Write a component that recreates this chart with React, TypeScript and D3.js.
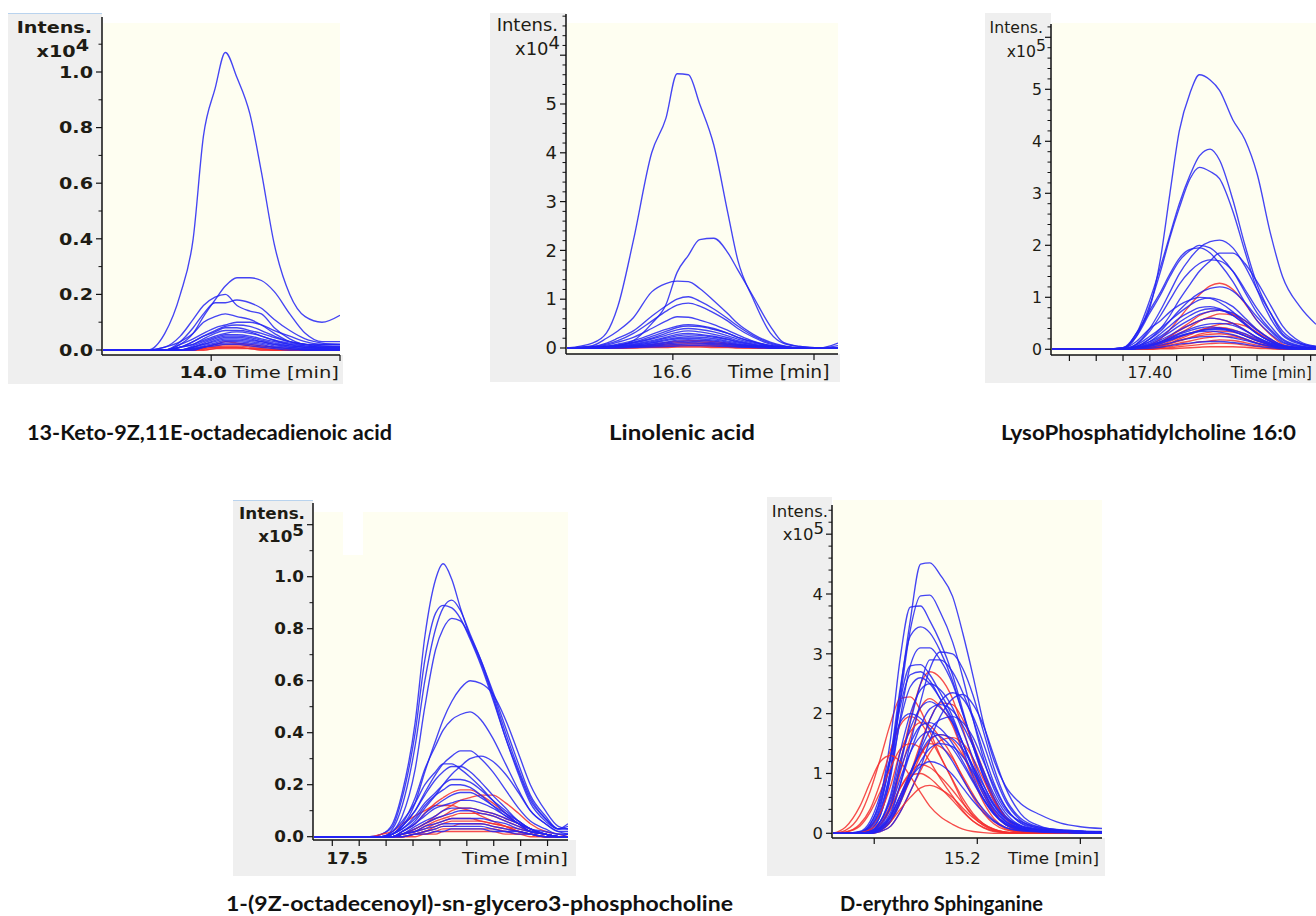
import React from "react";
import * as d3 from "d3";

// ---------------- Panel 1 : 13-Keto-9Z,11E-octadecadienoic acid (x10^4) ----------------
const p1Times = [13.58, 13.755, 13.82, 13.88, 13.93, 13.97, 14.015, 14.055, 14.1, 14.15, 14.195, 14.245, 14.305, 14.365, 14.43, 14.5];
const p1Blue = [
  [0, 0, 0.06, 0.2, 0.4, 0.77, 0.94, 1.07, 0.98, 0.85, 0.64, 0.38, 0.2, 0.12, 0.1, 0.125],
  [0, 0, 0, 0.02, 0.06, 0.12, 0.18, 0.23, 0.26, 0.26, 0.25, 0.21, 0.13, 0.06, 0.03, 0.03],
  [0, 0, 0.01, 0.05, 0.11, 0.16, 0.19, 0.2, 0.16, 0.14, 0.13, 0.08, 0.04, 0.02, 0.02, 0.02],
  [0, 0, 0, 0.03, 0.08, 0.13, 0.17, 0.17, 0.18, 0.17, 0.15, 0.11, 0.07, 0.04, 0.025, 0.02],
  [0, 0, 0.01, 0.03, 0.06, 0.1, 0.12, 0.13, 0.12, 0.11, 0.09, 0.06, 0.03, 0.02, 0.01, 0.01],
  [0, 0, 0, 0.02, 0.04, 0.06, 0.08, 0.09, 0.1, 0.1, 0.09, 0.07, 0.05, 0.03, 0.02, 0.02],
  [0, 0, 0, 0.01, 0.03, 0.05, 0.07, 0.085, 0.09, 0.085, 0.07, 0.05, 0.03, 0.02, 0.015, 0.015],
  [0, 0, 0, 0.01, 0.03, 0.05, 0.065, 0.08, 0.08, 0.07, 0.06, 0.045, 0.03, 0.02, 0.015, 0.01],
  [0, 0, 0, 0.01, 0.02, 0.04, 0.06, 0.07, 0.07, 0.065, 0.05, 0.035, 0.02, 0.015, 0.01, 0.01],
  [0, 0, 0, 0.01, 0.02, 0.035, 0.05, 0.06, 0.065, 0.06, 0.05, 0.035, 0.025, 0.015, 0.01, 0.01],
  [0, 0, 0, 0, 0.015, 0.03, 0.045, 0.055, 0.055, 0.05, 0.04, 0.03, 0.02, 0.01, 0.01, 0.01],
  [0, 0, 0, 0, 0.01, 0.025, 0.04, 0.05, 0.05, 0.045, 0.035, 0.025, 0.015, 0.01, 0.005, 0.005],
  [0, 0, 0, 0, 0.01, 0.02, 0.035, 0.045, 0.045, 0.04, 0.03, 0.02, 0.015, 0.01, 0.005, 0.005],
  [0, 0, 0, 0, 0.01, 0.02, 0.03, 0.04, 0.04, 0.035, 0.03, 0.02, 0.01, 0.005, 0.005, 0.005],
  [0, 0, 0, 0, 0.005, 0.015, 0.025, 0.035, 0.035, 0.03, 0.025, 0.015, 0.01, 0.005, 0, 0],
  [0, 0, 0, 0, 0.005, 0.01, 0.02, 0.03, 0.03, 0.025, 0.02, 0.01, 0.005, 0, 0, 0],
  [0, 0, 0, 0, 0, 0.01, 0.02, 0.025, 0.025, 0.02, 0.015, 0.01, 0.005, 0, 0, 0],
  [0, 0, 0, 0, 0, 0.01, 0.015, 0.02, 0.02, 0.015, 0.01, 0.005, 0, 0, 0, 0],
];
const p1Red = [
  [0, 0, 0, 0, 0.005, 0.01, 0.02, 0.03, 0.025, 0.02, 0.015, 0.01, 0.005, 0, 0, 0],
  [0, 0, 0, 0, 0, 0.01, 0.015, 0.02, 0.02, 0.015, 0.01, 0.005, 0, 0, 0, 0],
  [0, 0, 0, 0, 0, 0.005, 0.01, 0.015, 0.015, 0.01, 0.005, 0, 0, 0, 0, 0],
  [0, 0, 0, 0, 0, 0.005, 0.01, 0.01, 0.01, 0.005, 0.005, 0, 0, 0, 0, 0],
  [0, 0, 0, 0, 0, 0, 0.005, 0.01, 0.01, 0.005, 0, 0, 0, 0, 0, 0],
  [0, 0, 0, 0, 0, 0, 0.005, 0.005, 0.005, 0.005, 0, 0, 0, 0, 0, 0],
];
const p1YTicks = [0, 0.2, 0.4, 0.6, 0.8, 1.0];
const p1YLabels = ["0.0", "0.2", "0.4", "0.6", "0.8", "1.0"];
const p1YExtra: number[] = [];
const p1YMinor = [0.1, 0.3, 0.5, 0.7, 0.9, 1.1];
const p1XTicks = [14.0, 14.5];
const p1XLabel = { value: 14.0, text: "14.0" };

// ---------------- Panel 2 : Linolenic acid (x10^4) ----------------
const p2Times = [16.525, 16.543, 16.553, 16.561, 16.572, 16.585, 16.595, 16.603, 16.611, 16.619, 16.629, 16.639, 16.646, 16.657, 16.669, 16.678, 16.69, 16.704, 16.717];
const p2Blue = [
  [0, 0.1, 0.31, 0.85, 2.2, 4.0, 4.7, 5.62, 5.6, 5.0, 4.16, 2.76, 1.8, 1.0, 0.31, 0.1, 0.03, 0, 0.05],
  [0, 0, 0.02, 0.05, 0.15, 0.5, 0.88, 1.55, 1.9, 2.22, 2.25, 1.95, 1.6, 1.05, 0.45, 0.12, 0.03, 0, 0],
  [0, 0.05, 0.2, 0.35, 0.62, 1.15, 1.32, 1.37, 1.36, 1.22, 0.97, 0.7, 0.5, 0.28, 0.12, 0.05, 0, 0, 0],
  [0, 0.03, 0.1, 0.2, 0.35, 0.65, 0.86, 1.0, 1.05, 0.96, 0.8, 0.6, 0.45, 0.25, 0.1, 0.04, 0, 0, 0],
  [0, 0.02, 0.08, 0.15, 0.3, 0.55, 0.75, 0.88, 0.92, 0.86, 0.72, 0.55, 0.4, 0.22, 0.08, 0.03, 0, 0, 0],
  [0, 0.02, 0.06, 0.12, 0.22, 0.4, 0.55, 0.64, 0.63, 0.57, 0.48, 0.36, 0.27, 0.14, 0.05, 0.02, 0, 0, 0],
  [0, 0.01, 0.04, 0.08, 0.15, 0.28, 0.38, 0.45, 0.48, 0.46, 0.4, 0.3, 0.22, 0.12, 0.05, 0.02, 0, 0, 0],
  [0, 0.01, 0.03, 0.06, 0.12, 0.24, 0.34, 0.42, 0.45, 0.44, 0.38, 0.3, 0.22, 0.13, 0.05, 0.02, 0, 0, 0],
  [0, 0.01, 0.03, 0.06, 0.11, 0.2, 0.3, 0.37, 0.4, 0.38, 0.33, 0.25, 0.18, 0.1, 0.04, 0.01, 0, 0, 0],
  [0, 0.01, 0.02, 0.05, 0.1, 0.18, 0.26, 0.32, 0.35, 0.33, 0.28, 0.21, 0.15, 0.08, 0.03, 0.01, 0, 0, 0],
  [0, 0.01, 0.02, 0.04, 0.08, 0.15, 0.22, 0.28, 0.3, 0.28, 0.24, 0.18, 0.13, 0.07, 0.03, 0.01, 0, 0, 0],
  [0, 0, 0.02, 0.04, 0.07, 0.13, 0.2, 0.25, 0.27, 0.26, 0.22, 0.17, 0.12, 0.06, 0.02, 0, 0, 0, 0],
  [0, 0, 0.01, 0.03, 0.06, 0.11, 0.17, 0.21, 0.23, 0.22, 0.19, 0.14, 0.1, 0.05, 0.02, 0, 0, 0, 0],
  [0, 0, 0.01, 0.03, 0.05, 0.1, 0.15, 0.19, 0.2, 0.19, 0.16, 0.12, 0.08, 0.04, 0.01, 0, 0, 0, 0],
  [0, 0, 0.01, 0.02, 0.04, 0.08, 0.12, 0.16, 0.17, 0.16, 0.14, 0.1, 0.07, 0.03, 0.01, 0, 0, 0, 0],
  [0, 0, 0.01, 0.02, 0.04, 0.07, 0.1, 0.13, 0.14, 0.13, 0.11, 0.08, 0.06, 0.03, 0.01, 0, 0, 0, 0],
  [0, 0, 0, 0.01, 0.03, 0.05, 0.08, 0.1, 0.11, 0.1, 0.09, 0.07, 0.05, 0.02, 0.01, 0, 0, 0, 0],
  [0, 0, 0, 0.01, 0.02, 0.04, 0.06, 0.07, 0.08, 0.08, 0.07, 0.05, 0.03, 0.02, 0, 0, 0, 0, 0],
  [0, 0, 0, 0, 0.01, 0.02, 0.03, 0.04, 0.05, 0.05, 0.04, 0.03, 0.02, 0.01, 0, 0, 0, 0, 0.1],
];
const p2Red = [
  [0, 0, 0, 0.01, 0.03, 0.07, 0.11, 0.14, 0.15, 0.15, 0.13, 0.1, 0.07, 0.04, 0.01, 0, 0, 0, 0],
  [0, 0, 0, 0.01, 0.02, 0.05, 0.08, 0.11, 0.12, 0.12, 0.1, 0.08, 0.05, 0.03, 0.01, 0, 0, 0, 0],
  [0, 0, 0, 0, 0.02, 0.04, 0.06, 0.08, 0.09, 0.09, 0.08, 0.06, 0.04, 0.02, 0.01, 0, 0, 0, 0],
  [0, 0, 0, 0, 0.01, 0.03, 0.04, 0.05, 0.06, 0.06, 0.05, 0.04, 0.03, 0.01, 0, 0, 0, 0, 0],
  [0, 0, 0, 0, 0.01, 0.02, 0.03, 0.04, 0.04, 0.04, 0.03, 0.02, 0.01, 0, 0, 0, 0, 0, 0],
  [0, 0, 0, 0, 0, 0.01, 0.01, 0.02, 0.02, 0.02, 0.01, 0.01, 0, 0, 0, 0, 0, 0, 0],
];
const p2YTicks = [0, 1, 2, 3, 4, 5];
const p2YLabels = ["0", "1", "2", "3", "4", "5"];
const p2YExtra = [6];
const p2YMinor = d3.range(0.2, 6.81, 0.2).filter((v) => Math.abs(v - Math.round(v)) > 0.05);
const p2XTicks = [16.6, 16.7];
const p2XLabel = { value: 16.6, text: "16.6" };

// ---------------- Panel 3 : LysoPhosphatidylcholine 16:0 (x10^5) ----------------
const p3Times = [17.327, 17.363, 17.38, 17.39, 17.4, 17.408, 17.415, 17.422, 17.43, 17.437, 17.445, 17.452, 17.462, 17.471, 17.48, 17.49, 17.499, 17.512, 17.524];
const p3Blue = [
  [0, 0, 0, 0.31, 0.8, 1.75, 3.0, 4.2, 4.93, 5.28, 5.18, 4.98, 4.41, 4.03, 3.38, 2.23, 1.4, 0.82, 0.48],
  [0, 0, 0.02, 0.3, 0.95, 1.59, 2.2, 2.8, 3.35, 3.72, 3.85, 3.64, 2.87, 2.0, 1.25, 0.7, 0.3, 0.12, 0.05],
  [0, 0, 0.02, 0.25, 0.85, 1.5, 2.15, 2.72, 3.28, 3.5, 3.42, 3.28, 2.65, 1.88, 1.15, 0.6, 0.27, 0.1, 0.04],
  [0, 0, 0.01, 0.1, 0.4, 0.75, 1.1, 1.45, 1.75, 1.95, 2.07, 2.1, 1.95, 1.6, 1.15, 0.7, 0.35, 0.12, 0.05],
  [0, 0, 0.03, 0.25, 0.7, 1.05, 1.4, 1.7, 1.9, 2.0, 1.95, 1.8, 1.5, 1.1, 0.7, 0.38, 0.18, 0.06, 0.03],
  [0, 0, 0, 0.05, 0.2, 0.4, 0.65, 0.95, 1.25, 1.5, 1.7, 1.85, 1.85, 1.65, 1.3, 0.85, 0.45, 0.15, 0.06],
  [0, 0, 0.03, 0.3, 0.75, 1.1, 1.45, 1.75, 1.92, 1.95, 1.85, 1.65, 1.3, 0.9, 0.55, 0.3, 0.13, 0.05, 0.02],
  [0, 0, 0.01, 0.1, 0.35, 0.65, 0.95, 1.25, 1.5, 1.65, 1.72, 1.7, 1.5, 1.15, 0.78, 0.45, 0.2, 0.07, 0.03],
  [0, 0, 0, 0.05, 0.2, 0.35, 0.55, 0.75, 0.95, 1.08, 1.17, 1.2, 1.12, 0.9, 0.62, 0.35, 0.15, 0.05, 0.02],
  [0, 0, 0.02, 0.15, 0.4, 0.55, 0.72, 0.85, 0.95, 1.0, 0.98, 0.9, 0.72, 0.5, 0.3, 0.15, 0.06, 0.02, 0.01],
  [0, 0, 0, 0.08, 0.25, 0.4, 0.55, 0.7, 0.85, 0.95, 0.99, 0.95, 0.82, 0.6, 0.38, 0.2, 0.08, 0.03, 0.01],
  [0, 0, 0.01, 0.05, 0.15, 0.3, 0.45, 0.6, 0.72, 0.8, 0.82, 0.78, 0.65, 0.48, 0.3, 0.16, 0.07, 0.03, 0.01],
  [0, 0, 0, 0.05, 0.15, 0.25, 0.38, 0.52, 0.65, 0.74, 0.78, 0.76, 0.65, 0.48, 0.3, 0.15, 0.06, 0.02, 0.01],
  [0, 0, 0, 0.04, 0.12, 0.22, 0.33, 0.45, 0.57, 0.67, 0.73, 0.75, 0.7, 0.55, 0.36, 0.19, 0.08, 0.03, 0.01],
  [0, 0, 0, 0.03, 0.1, 0.18, 0.27, 0.37, 0.47, 0.55, 0.6, 0.58, 0.5, 0.37, 0.23, 0.12, 0.05, 0.02, 0.01],
  [0, 0, 0, 0.02, 0.08, 0.15, 0.23, 0.31, 0.39, 0.45, 0.49, 0.5, 0.46, 0.36, 0.23, 0.12, 0.05, 0.02, 0.01],
  [0, 0, 0, 0.03, 0.08, 0.14, 0.21, 0.29, 0.36, 0.41, 0.43, 0.41, 0.35, 0.26, 0.16, 0.08, 0.03, 0.01, 0],
  [0, 0, 0, 0.02, 0.06, 0.12, 0.18, 0.25, 0.31, 0.36, 0.39, 0.4, 0.37, 0.3, 0.2, 0.1, 0.04, 0.01, 0],
  [0, 0, 0, 0.02, 0.06, 0.11, 0.17, 0.24, 0.3, 0.35, 0.38, 0.38, 0.34, 0.26, 0.17, 0.09, 0.04, 0.01, 0],
  [0, 0, 0, 0.03, 0.08, 0.14, 0.2, 0.26, 0.31, 0.34, 0.35, 0.33, 0.28, 0.2, 0.12, 0.06, 0.02, 0.01, 0],
  [0, 0, 0, 0.01, 0.04, 0.08, 0.12, 0.17, 0.21, 0.24, 0.25, 0.25, 0.22, 0.17, 0.11, 0.06, 0.02, 0.01, 0],
  [0, 0, 0, 0.01, 0.02, 0.04, 0.07, 0.1, 0.12, 0.14, 0.15, 0.15, 0.13, 0.1, 0.06, 0.03, 0.01, 0, 0],
];
const p3Red = [
  [0, 0, 0, 0, 0.08, 0.2, 0.38, 0.6, 0.85, 1.05, 1.22, 1.27, 1.15, 0.88, 0.55, 0.28, 0.1, 0.03, 0],
  [0, 0, 0, 0, 0.05, 0.14, 0.25, 0.38, 0.52, 0.65, 0.73, 0.75, 0.68, 0.5, 0.32, 0.15, 0.05, 0.01, 0],
  [0, 0, 0, 0, 0.03, 0.1, 0.2, 0.3, 0.42, 0.54, 0.63, 0.68, 0.66, 0.55, 0.38, 0.2, 0.07, 0.02, 0],
  [0, 0, 0, 0.01, 0.06, 0.14, 0.25, 0.36, 0.47, 0.55, 0.6, 0.58, 0.5, 0.37, 0.22, 0.1, 0.03, 0.01, 0],
  [0, 0, 0, 0, 0.02, 0.06, 0.12, 0.2, 0.28, 0.36, 0.43, 0.48, 0.5, 0.45, 0.32, 0.17, 0.06, 0.02, 0],
  [0, 0, 0, 0, 0.03, 0.08, 0.15, 0.23, 0.31, 0.37, 0.41, 0.42, 0.38, 0.29, 0.18, 0.08, 0.03, 0.01, 0],
  [0, 0, 0, 0, 0.02, 0.06, 0.11, 0.17, 0.23, 0.29, 0.33, 0.35, 0.33, 0.26, 0.16, 0.08, 0.03, 0.01, 0],
  [0, 0, 0, 0, 0.02, 0.06, 0.11, 0.16, 0.22, 0.26, 0.29, 0.3, 0.27, 0.2, 0.12, 0.05, 0.02, 0, 0],
  [0, 0, 0, 0, 0.01, 0.04, 0.08, 0.12, 0.16, 0.2, 0.23, 0.25, 0.24, 0.19, 0.12, 0.06, 0.02, 0, 0],
  [0, 0, 0, 0, 0.01, 0.03, 0.05, 0.08, 0.11, 0.14, 0.16, 0.18, 0.17, 0.13, 0.08, 0.04, 0.01, 0, 0],
  [0, 0, 0, 0, 0, 0.02, 0.03, 0.05, 0.07, 0.09, 0.11, 0.12, 0.11, 0.08, 0.05, 0.02, 0.01, 0, 0],
  [0, 0, 0, 0, 0, 0.01, 0.01, 0.02, 0.03, 0.04, 0.05, 0.05, 0.05, 0.04, 0.02, 0.01, 0, 0, 0],
];
const p3YTicks = [0, 1, 2, 3, 4, 5];
const p3YLabels = ["0", "1", "2", "3", "4", "5"];
const p3YExtra = [6];
const p3YMinor = d3.range(0.2, 6.21, 0.2).filter((v) => Math.abs(v - Math.round(v)) > 0.05);
const p3XTicks = d3.range(17.34, 17.53, 0.02);
const p3XLabel = { value: 17.4, text: "17.40" };

// ---------------- Panel 4 : 1-(9Z-octadecenoyl)-sn-glycero3-phosphocholine (x10^5) ----------------
const p4Times = [17.458, 17.51, 17.521, 17.531, 17.54, 17.552, 17.561, 17.571, 17.578, 17.586, 17.594, 17.603, 17.613, 17.624, 17.636, 17.648, 17.659, 17.673, 17.685, 17.694];
const p4Blue = [
  [0, 0, 0.01, 0.05, 0.17, 0.44, 0.77, 0.99, 1.05, 0.99, 0.88, 0.77, 0.67, 0.54, 0.38, 0.25, 0.14, 0.07, 0.03, 0.05],
  [0, 0, 0, 0.03, 0.12, 0.35, 0.6, 0.8, 0.88, 0.91, 0.87, 0.78, 0.68, 0.55, 0.4, 0.26, 0.15, 0.07, 0.03, 0.03],
  [0, 0, 0.01, 0.04, 0.15, 0.4, 0.68, 0.86, 0.89, 0.88, 0.84, 0.76, 0.66, 0.53, 0.38, 0.24, 0.13, 0.06, 0.03, 0.04],
  [0, 0, 0, 0.02, 0.08, 0.26, 0.5, 0.72, 0.8, 0.84, 0.83, 0.77, 0.68, 0.56, 0.42, 0.28, 0.16, 0.08, 0.03, 0.03],
  [0, 0, 0, 0.01, 0.04, 0.13, 0.25, 0.37, 0.45, 0.52, 0.57, 0.6, 0.59, 0.55, 0.45, 0.32, 0.2, 0.1, 0.04, 0.03],
  [0, 0, 0, 0.01, 0.05, 0.15, 0.26, 0.35, 0.41, 0.45, 0.47, 0.48, 0.45, 0.38, 0.28, 0.18, 0.1, 0.05, 0.02, 0.02],
  [0, 0, 0, 0.01, 0.04, 0.1, 0.17, 0.24, 0.28, 0.31, 0.33, 0.33, 0.3, 0.25, 0.18, 0.11, 0.06, 0.03, 0.01, 0.01],
  [0, 0, 0, 0, 0.02, 0.06, 0.11, 0.16, 0.2, 0.24, 0.27, 0.3, 0.31, 0.29, 0.24, 0.17, 0.1, 0.05, 0.02, 0.01],
  [0, 0, 0, 0.02, 0.06, 0.13, 0.2, 0.25, 0.28, 0.28, 0.26, 0.23, 0.19, 0.14, 0.09, 0.05, 0.03, 0.01, 0, 0],
  [0, 0, 0, 0.01, 0.04, 0.1, 0.16, 0.22, 0.25, 0.27, 0.27, 0.25, 0.21, 0.16, 0.11, 0.06, 0.03, 0.01, 0, 0],
  [0, 0, 0, 0.01, 0.03, 0.08, 0.13, 0.17, 0.2, 0.22, 0.22, 0.21, 0.18, 0.14, 0.1, 0.06, 0.03, 0.01, 0, 0.01],
  [0, 0, 0, 0.01, 0.03, 0.07, 0.12, 0.16, 0.18, 0.2, 0.2, 0.19, 0.16, 0.12, 0.08, 0.05, 0.02, 0.01, 0, 0],
  [0, 0, 0, 0, 0.02, 0.05, 0.09, 0.12, 0.14, 0.16, 0.17, 0.17, 0.15, 0.12, 0.09, 0.06, 0.03, 0.01, 0, 0],
  [0, 0, 0, 0, 0.02, 0.05, 0.08, 0.11, 0.12, 0.13, 0.14, 0.14, 0.13, 0.11, 0.08, 0.05, 0.02, 0.01, 0, 0],
  [0, 0, 0, 0, 0.01, 0.04, 0.06, 0.08, 0.1, 0.11, 0.11, 0.11, 0.1, 0.09, 0.07, 0.05, 0.03, 0.02, 0.01, 0.01],
  [0, 0, 0, 0, 0.01, 0.03, 0.05, 0.07, 0.08, 0.09, 0.1, 0.1, 0.09, 0.08, 0.06, 0.04, 0.02, 0.01, 0, 0],
  [0, 0, 0, 0, 0.01, 0.02, 0.04, 0.05, 0.06, 0.07, 0.07, 0.07, 0.07, 0.06, 0.05, 0.03, 0.02, 0.01, 0, 0],
  [0, 0, 0, 0, 0.01, 0.02, 0.03, 0.04, 0.05, 0.05, 0.05, 0.05, 0.05, 0.04, 0.03, 0.02, 0.01, 0, 0, 0],
  [0, 0, 0, 0, 0, 0.01, 0.02, 0.03, 0.04, 0.04, 0.04, 0.04, 0.04, 0.03, 0.02, 0.02, 0.01, 0, 0, 0],
  [0, 0, 0, 0, 0, 0.01, 0.01, 0.02, 0.02, 0.03, 0.03, 0.03, 0.03, 0.02, 0.02, 0.01, 0.01, 0, 0, 0],
];
const p4Red = [
  [0, 0, 0, 0, 0.02, 0.05, 0.09, 0.13, 0.15, 0.17, 0.18, 0.18, 0.16, 0.13, 0.09, 0.05, 0.03, 0.01, 0, 0],
  [0, 0, 0, 0, 0.01, 0.03, 0.05, 0.08, 0.1, 0.12, 0.14, 0.15, 0.16, 0.16, 0.13, 0.09, 0.05, 0.02, 0.01, 0],
  [0, 0, 0.01, 0.02, 0.05, 0.08, 0.1, 0.12, 0.12, 0.12, 0.11, 0.1, 0.08, 0.06, 0.04, 0.02, 0.01, 0, 0, 0],
  [0, 0, 0, 0, 0.01, 0.03, 0.05, 0.07, 0.08, 0.1, 0.11, 0.11, 0.1, 0.09, 0.07, 0.05, 0.02, 0.01, 0, 0],
  [0, 0, 0, 0, 0.01, 0.02, 0.04, 0.06, 0.07, 0.08, 0.09, 0.09, 0.09, 0.08, 0.06, 0.04, 0.02, 0.01, 0, 0],
  [0, 0, 0, 0, 0.01, 0.02, 0.03, 0.05, 0.06, 0.07, 0.07, 0.07, 0.06, 0.05, 0.04, 0.02, 0.01, 0, 0, 0],
  [0, 0, 0, 0, 0, 0.01, 0.02, 0.04, 0.05, 0.06, 0.06, 0.06, 0.06, 0.05, 0.04, 0.03, 0.02, 0.01, 0, 0],
  [0, 0, 0, 0, 0, 0.01, 0.02, 0.03, 0.04, 0.04, 0.05, 0.05, 0.05, 0.04, 0.03, 0.02, 0.01, 0, 0, 0],
  [0, 0, 0, 0, 0, 0.01, 0.01, 0.02, 0.03, 0.03, 0.03, 0.03, 0.03, 0.03, 0.02, 0.01, 0.01, 0, 0, 0],
  [0, 0, 0, 0, 0, 0, 0.01, 0.01, 0.02, 0.02, 0.02, 0.02, 0.02, 0.02, 0.01, 0.01, 0, 0, 0, 0],
];
const p4YTicks = [0, 0.2, 0.4, 0.6, 0.8, 1.0];
const p4YLabels = ["0.0", "0.2", "0.4", "0.6", "0.8", "1.0"];
const p4YExtra = [1.2];
const p4YMinor = [0.1, 0.3, 0.5, 0.7, 0.9, 1.1];
const p4XTicks = d3.range(17.475, 17.69, 0.025);
const p4XLabel = { value: 17.5, text: "17.5" };

// ---------------- Panel 5 : D-erythro Sphinganine (x10^5) ----------------
const p5Times = [15.06, 15.072, 15.086, 15.096, 15.106, 15.116, 15.125, 15.135, 15.145, 15.154, 15.164, 15.176, 15.186, 15.196, 15.206, 15.216, 15.227, 15.242, 15.261, 15.281, 15.3, 15.321];
const p5Blue = [
  [0, 0, 0, 0.08, 0.35, 1.1, 2.33, 3.56, 4.5, 4.52, 4.32, 3.96, 3.34, 2.62, 1.84, 1.23, 0.8, 0.5, 0.31, 0.17, 0.11, 0.08],
  [0, 0, 0, 0.05, 0.3, 1.0, 2.2, 3.4, 3.97, 3.98, 3.7, 3.2, 2.6, 1.9, 1.25, 0.75, 0.4, 0.2, 0.1, 0.06, 0.04, 0.03],
  [0, 0, 0.02, 0.15, 0.6, 1.6, 2.9, 3.78, 3.8, 3.55, 3.2, 2.65, 2.05, 1.45, 0.95, 0.55, 0.28, 0.12, 0.06, 0.04, 0.03, 0.02],
  [0, 0, 0.01, 0.1, 0.45, 1.3, 2.4, 3.3, 3.45, 3.35, 3.05, 2.55, 2.0, 1.45, 0.95, 0.55, 0.28, 0.12, 0.06, 0.04, 0.03, 0.02],
  [0, 0, 0, 0.06, 0.3, 0.95, 1.9, 2.8, 3.1, 3.1, 2.9, 2.5, 2.0, 1.5, 1.0, 0.6, 0.3, 0.13, 0.06, 0.04, 0.03, 0.02],
  [0, 0, 0, 0, 0.08, 0.3, 0.8, 1.5, 2.2, 2.75, 3.03, 3.0, 2.75, 2.3, 1.7, 1.1, 0.6, 0.25, 0.1, 0.05, 0.03, 0.02],
  [0, 0, 0, 0.02, 0.12, 0.45, 1.1, 1.85, 2.5, 2.9, 2.9, 2.7, 2.35, 1.9, 1.35, 0.85, 0.45, 0.18, 0.08, 0.04, 0.03, 0.02],
  [0, 0, 0.02, 0.15, 0.55, 1.3, 2.2, 2.8, 2.82, 2.65, 2.35, 1.95, 1.5, 1.05, 0.65, 0.35, 0.17, 0.08, 0.05, 0.03, 0.02, 0.01],
  [0, 0, 0.02, 0.12, 0.5, 1.25, 2.1, 2.65, 2.7, 2.55, 2.25, 1.85, 1.4, 0.95, 0.58, 0.32, 0.15, 0.07, 0.04, 0.03, 0.02, 0.01],
  [0, 0, 0.01, 0.1, 0.4, 1.05, 1.85, 2.45, 2.6, 2.5, 2.25, 1.9, 1.5, 1.1, 0.7, 0.4, 0.2, 0.08, 0.04, 0.03, 0.02, 0.01],
  [0, 0, 0, 0, 0.05, 0.2, 0.5, 0.95, 1.45, 1.9, 2.2, 2.35, 2.25, 1.95, 1.5, 1.0, 0.55, 0.22, 0.08, 0.04, 0.03, 0.02],
  [0, 0, 0, 0, 0.03, 0.12, 0.35, 0.7, 1.1, 1.55, 1.95, 2.25, 2.32, 2.15, 1.8, 1.3, 0.78, 0.33, 0.12, 0.05, 0.03, 0.02],
  [0, 0, 0, 0.03, 0.2, 0.6, 1.2, 1.75, 2.1, 2.2, 2.1, 1.85, 1.5, 1.1, 0.72, 0.42, 0.2, 0.08, 0.04, 0.03, 0.02, 0.01],
  [0, 0, 0, 0.01, 0.1, 0.35, 0.8, 1.35, 1.8, 2.08, 2.15, 2.05, 1.8, 1.45, 1.05, 0.66, 0.35, 0.13, 0.05, 0.03, 0.02, 0.01],
  [0, 0, 0, 0, 0.06, 0.22, 0.55, 1.0, 1.4, 1.72, 1.9, 1.95, 1.85, 1.6, 1.2, 0.8, 0.44, 0.17, 0.06, 0.03, 0.02, 0.01],
  [0, 0, 0, 0.02, 0.15, 0.45, 0.9, 1.35, 1.62, 1.7, 1.62, 1.42, 1.15, 0.85, 0.56, 0.32, 0.15, 0.06, 0.03, 0.02, 0.01, 0.01],
  [0, 0, 0, 0.01, 0.08, 0.28, 0.62, 1.02, 1.35, 1.58, 1.65, 1.58, 1.4, 1.12, 0.8, 0.5, 0.26, 0.1, 0.04, 0.02, 0.01, 0.01],
  [0, 0, 0.03, 0.2, 0.65, 1.3, 1.85, 2.0, 1.92, 1.75, 1.5, 1.2, 0.9, 0.62, 0.4, 0.22, 0.1, 0.05, 0.03, 0.02, 0.01, 0.01],
  [0, 0, 0, 0.03, 0.2, 0.55, 1.05, 1.5, 1.8, 1.85, 1.75, 1.5, 1.2, 0.88, 0.58, 0.34, 0.17, 0.07, 0.04, 0.02, 0.01, 0.01],
  [0, 0, 0, 0.01, 0.08, 0.25, 0.55, 0.9, 1.2, 1.42, 1.5, 1.45, 1.28, 1.02, 0.74, 0.47, 0.25, 0.1, 0.04, 0.02, 0.01, 0.01],
  [0, 0, 0, 0.03, 0.2, 0.65, 1.35, 2.0, 2.4, 2.5, 2.4, 2.1, 1.7, 1.25, 0.82, 0.47, 0.22, 0.09, 0.04, 0.03, 0.02, 0.01],
  [0, 0, 0, 0.02, 0.1, 0.3, 0.62, 0.92, 1.12, 1.2, 1.15, 0.98, 0.76, 0.54, 0.35, 0.2, 0.1, 0.04, 0.02, 0.01, 0.01, 0.01],
];
const p5Red = [
  [0, 0, 0, 0.02, 0.15, 0.5, 1.15, 1.9, 2.5, 2.7, 2.6, 2.25, 1.75, 1.2, 0.72, 0.38, 0.15, 0.05, 0.02, 0.01, 0, 0],
  [0, 0.05, 0.3, 0.7, 1.25, 1.85, 2.25, 2.28, 2.05, 1.7, 1.3, 0.88, 0.52, 0.28, 0.13, 0.05, 0.02, 0.01, 0, 0, 0, 0],
  [0, 0, 0, 0.03, 0.15, 0.45, 1.0, 1.6, 2.1, 2.25, 2.12, 1.8, 1.35, 0.9, 0.52, 0.25, 0.1, 0.03, 0.01, 0, 0, 0],
  [0, 0, 0, 0, 0.05, 0.2, 0.55, 1.0, 1.5, 1.9, 2.18, 2.15, 1.9, 1.5, 1.05, 0.6, 0.28, 0.08, 0.02, 0, 0, 0],
  [0, 0.02, 0.15, 0.4, 0.85, 1.4, 1.8, 1.95, 1.85, 1.6, 1.28, 0.9, 0.58, 0.33, 0.16, 0.07, 0.02, 0, 0, 0, 0, 0],
  [0, 0, 0.02, 0.1, 0.35, 0.8, 1.35, 1.7, 1.85, 1.8, 1.6, 1.28, 0.92, 0.6, 0.34, 0.16, 0.06, 0.02, 0, 0, 0, 0],
  [0, 0, 0, 0, 0.05, 0.2, 0.5, 0.9, 1.3, 1.55, 1.65, 1.55, 1.3, 0.98, 0.65, 0.36, 0.15, 0.04, 0.01, 0, 0, 0],
  [0, 0, 0, 0, 0.03, 0.12, 0.35, 0.7, 1.05, 1.35, 1.55, 1.6, 1.5, 1.25, 0.9, 0.55, 0.25, 0.07, 0.02, 0, 0, 0],
  [0, 0, 0, 0.01, 0.08, 0.28, 0.62, 1.0, 1.32, 1.5, 1.45, 1.25, 0.95, 0.65, 0.38, 0.2, 0.08, 0.02, 0, 0, 0, 0],
  [0, 0, 0, 0.03, 0.15, 0.4, 0.75, 1.02, 1.15, 1.1, 0.95, 0.72, 0.5, 0.3, 0.16, 0.07, 0.02, 0, 0, 0, 0, 0],
  [0, 0, 0.01, 0.06, 0.2, 0.45, 0.75, 0.97, 1.0, 0.92, 0.76, 0.55, 0.36, 0.2, 0.1, 0.04, 0.01, 0, 0, 0, 0, 0],
  [0, 0, 0, 0.02, 0.08, 0.2, 0.4, 0.6, 0.76, 0.8, 0.74, 0.6, 0.42, 0.26, 0.14, 0.06, 0.02, 0, 0, 0, 0, 0],
  [0, 0.1, 0.45, 0.85, 1.2, 1.3, 1.2, 0.95, 0.68, 0.45, 0.28, 0.15, 0.07, 0.03, 0.01, 0, 0, 0, 0, 0, 0, 0],
  [0, 0.02, 0.12, 0.35, 0.7, 1.1, 1.4, 1.5, 1.42, 1.2, 0.92, 0.62, 0.38, 0.2, 0.09, 0.03, 0.01, 0, 0, 0, 0, 0],
];
const p5YTicks = [0, 1, 2, 3, 4];
const p5YLabels = ["0", "1", "2", "3", "4"];
const p5YExtra = [5];
const p5YMinor = d3.range(0.2, 5.41, 0.2).filter((v) => Math.abs(v - Math.round(v)) > 0.05);
const p5XTicks = [15.1, 15.2, 15.3];
const p5XLabel = { value: 15.2, text: "15.2" };

// ---------------- Compound names ----------------
const compoundNames = [
  "13-Keto-9Z,11E-octadecadienoic acid",
  "Linolenic acid",
  "LysoPhosphatidylcholine 16:0",
  "1-(9Z-octadecenoyl)-sn-glycero3-phosphocholine",
  "D-erythro Sphinganine",
];
const exponents = ["4", "4", "5", "5", "5"];

const FONT = "'DejaVu Sans', Verdana, sans-serif";
const BLUE = "#2323f3";
const RED = "#f42e2e";
const GREY = "#efefef";
const CREAM = "#fefef1";
const INK = "#1e1c14";

type Rect = { x0: number; y0: number; x1: number; y1: number };

interface PanelSpec {
  times: number[];
  blue: number[][];
  red: number[][];
  xDomain: [number, number];
  plot: Rect;
  grey: Rect;
  yDomain: [number, number];
  yRange: [number, number];
  axisX: number;
  axisTop: number;
  axisY: number;
  yTicks: number[];
  yLabels: string[];
  yExtra: number[];
  yMinor: number[];
  xTicks: number[];
  xLabel: { value: number; text: string };
  xLabelDx: number;
  timeX: number;
  labelY: number;
  intens: { x: number; y: number };
  x10: { x: number; y: number };
  exp: string;
  fs: number;
  sx: number;
  timeSx: number;
  numWeight: string;
  intensWeight: string;
  notch?: Rect;
  topLine?: boolean;
}

function STxt(props: {
  x: number;
  y: number;
  anchor?: "start" | "middle" | "end";
  fs: number;
  sx: number;
  weight?: string;
  children: React.ReactNode;
}) {
  const { x, y, anchor = "start", fs, sx, weight = "normal", children } = props;
  return (
    <text
      transform={`translate(${x},${y}) scale(${sx},1)`}
      textAnchor={anchor}
      fontSize={fs}
      fontWeight={weight}
      fontFamily={FONT}
      fill={INK}
    >
      {children}
    </text>
  );
}

function Panel({ p, id }: { p: PanelSpec; id: string }) {
  const xs = d3.scaleLinear().domain(p.xDomain).range([p.plot.x0, p.plot.x1]);
  const ys = d3.scaleLinear().domain(p.yDomain).range(p.yRange);
  const line = d3
    .line<number>()
    .x((_, i) => xs(p.times[i]))
    .y((d) => ys(d))
    .curve(d3.curveMonotoneX);

  const order: { c: string; d: number[] }[] = [];
  const n = Math.max(p.blue.length, p.red.length);
  for (let i = 0; i < n; i++) {
    if (p.blue[i]) order.push({ c: BLUE, d: p.blue[i] });
    if (p.red[i]) order.push({ c: RED, d: p.red[i] });
  }

  const g = p.grey;
  const yLabelX = p.axisX - 9;
  return (
    <g>
      <rect x={g.x0} y={g.y0} width={p.axisX - g.x0} height={g.y1 - g.y0} fill={GREY} />
      <rect x={g.x0} y={p.axisY} width={g.x1 - g.x0} height={g.y1 - p.axisY} fill={GREY} />
      {p.topLine && <line x1={g.x0} x2={p.axisX} y1={g.y0 + 0.5} y2={g.y0 + 0.5} stroke="#b9d3ee" strokeWidth={1.2} />}
      <rect x={p.plot.x0} y={p.plot.y0} width={p.plot.x1 - p.plot.x0} height={p.axisY - p.plot.y0} fill={CREAM} />
      {p.notch && (
        <rect x={p.notch.x0} y={p.notch.y0} width={p.notch.x1 - p.notch.x0} height={p.notch.y1 - p.notch.y0} fill="#ffffff" />
      )}
      <defs>
        <clipPath id={id}>
          <rect x={p.plot.x0} y={p.plot.y0} width={p.plot.x1 - p.plot.x0} height={p.axisY - p.plot.y0} />
        </clipPath>
      </defs>
      <g clipPath={`url(#${id})`} fill="none" strokeWidth={1.35} strokeLinejoin="round">
        {order.map((o, i) => (
          <path key={i} d={line(o.d.slice(0, p.times.length)) || ""} stroke={o.c} strokeOpacity={0.85} />
        ))}
      </g>
      {/* axes */}
      <line x1={p.axisX} x2={p.axisX} y1={p.axisTop} y2={p.axisY} stroke="#111" strokeWidth={1.5} />
      <line x1={p.axisX} x2={p.plot.x1} y1={p.axisY} y2={p.axisY} stroke="#111" strokeWidth={1.5} />
      {p.yTicks.concat(p.yExtra).map((v, i) => (
        <line key={"M" + i} x1={p.axisX - 6} x2={p.axisX} y1={ys(v)} y2={ys(v)} stroke="#111" strokeWidth={1.2} />
      ))}
      {p.yMinor
        .filter((v) => ys(v) >= p.axisTop)
        .map((v, i) => (
          <line key={"m" + i} x1={p.axisX - 3.5} x2={p.axisX} y1={ys(v)} y2={ys(v)} stroke="#111" strokeWidth={1} />
        ))}
      {p.yTicks.map((v, i) => (
        <STxt key={"L" + i} x={yLabelX} y={ys(v) + p.fs * 0.36} anchor="end" fs={p.fs} sx={p.sx} weight={p.numWeight}>
          {p.yLabels[i]}
        </STxt>
      ))}
      {p.xTicks.map((v, i) => (
        <line key={"x" + i} x1={xs(v)} x2={xs(v)} y1={p.axisY} y2={p.axisY + 6} stroke="#111" strokeWidth={1.2} />
      ))}
      <STxt x={xs(p.xLabel.value) + p.xLabelDx} y={p.labelY} anchor="middle" fs={p.fs} sx={p.sx} weight={p.numWeight}>
        {p.xLabel.text}
      </STxt>
      <STxt x={p.timeX} y={p.labelY} fs={p.fs} sx={p.timeSx}>
        Time [min]
      </STxt>
      <STxt x={p.intens.x} y={p.intens.y} anchor="end" fs={p.fs} sx={p.sx} weight={p.intensWeight}>
        Intens.
      </STxt>
      <STxt x={p.x10.x} y={p.x10.y} anchor="end" fs={p.fs} sx={p.sx} weight={p.intensWeight}>
        x10<tspan dy={-6}>{p.exp}</tspan>
      </STxt>
    </g>
  );
}

export default function App() {
  const panels: PanelSpec[] = [
    {
      times: p1Times, blue: p1Blue, red: p1Red,
      xDomain: [13.58, 14.5], plot: { x0: 103, y0: 23, x1: 340, y1: 355 },
      grey: { x0: 8, y0: 13, x1: 343, y1: 384 },
      yDomain: [0, 1], yRange: [350, 72], axisX: 102, axisTop: 17, axisY: 355,
      yTicks: p1YTicks, yLabels: p1YLabels, yExtra: p1YExtra, yMinor: p1YMinor,
      xTicks: p1XTicks, xLabel: p1XLabel, xLabelDx: -8, timeX: 233, labelY: 378,
      intens: { x: 92, y: 33 }, x10: { x: 89, y: 57 }, exp: exponents[0],
      fs: 16, sx: 1.2, timeSx: 1.22, numWeight: "bold", intensWeight: "bold", topLine: true,
    },
    {
      times: p2Times, blue: p2Blue, red: p2Red,
      xDomain: [16.525, 16.717], plot: { x0: 567, y0: 23, x1: 838, y1: 354 },
      grey: { x0: 490, y0: 13, x1: 840, y1: 382 },
      yDomain: [0, 5], yRange: [348, 104], axisX: 566, axisTop: 14, axisY: 354,
      yTicks: p2YTicks, yLabels: p2YLabels, yExtra: p2YExtra, yMinor: p2YMinor,
      xTicks: p2XTicks, xLabel: p2XLabel, xLabelDx: -1, timeX: 728, labelY: 378,
      intens: { x: 558, y: 31 }, x10: { x: 560, y: 55 }, exp: exponents[1],
      fs: 17, sx: 1.06, timeSx: 1.1, numWeight: "normal", intensWeight: "normal",
    },
    {
      times: p3Times, blue: p3Blue, red: p3Red,
      xDomain: [17.327, 17.524], plot: { x0: 1052, y0: 23, x1: 1316, y1: 355 },
      grey: { x0: 985, y0: 13, x1: 1316, y1: 383 },
      yDomain: [0, 5], yRange: [349.3, 89.3], axisX: 1051, axisTop: 24, axisY: 355,
      yTicks: p3YTicks, yLabels: p3YLabels, yExtra: p3YExtra, yMinor: p3YMinor,
      xTicks: p3XTicks, xLabel: p3XLabel, xLabelDx: 0, timeX: 1231, labelY: 378,
      intens: { x: 1043, y: 33 }, x10: { x: 1046, y: 57 }, exp: exponents[2],
      fs: 16, sx: 0.98, timeSx: 0.93, numWeight: "normal", intensWeight: "normal",
    },
    {
      times: p4Times, blue: p4Blue, red: p4Red,
      xDomain: [17.458, 17.694], plot: { x0: 314, y0: 512, x1: 568, y1: 840 },
      grey: { x0: 233, y0: 500, x1: 576, y1: 876 },
      yDomain: [0, 1], yRange: [836.7, 576.7], axisX: 313, axisTop: 503, axisY: 840,
      yTicks: p4YTicks, yLabels: p4YLabels, yExtra: p4YExtra, yMinor: p4YMinor,
      xTicks: p4XTicks, xLabel: p4XLabel, xLabelDx: -12, timeX: 462, labelY: 864,
      intens: { x: 305, y: 519 }, x10: { x: 304, y: 542 }, exp: exponents[3],
      fs: 15, sx: 1.12, timeSx: 1.3, numWeight: "bold", intensWeight: "bold",
      notch: { x0: 343, y0: 512, x1: 363, y1: 555 }, topLine: true,
    },
    {
      times: p5Times, blue: p5Blue, red: p5Red,
      xDomain: [15.06, 15.321], plot: { x0: 833, y0: 500, x1: 1102, y1: 838 },
      grey: { x0: 767, y0: 497, x1: 1105, y1: 876 },
      yDomain: [0, 4], yRange: [833.3, 594], axisX: 832, axisTop: 505, axisY: 838,
      yTicks: p5YTicks, yLabels: p5YLabels, yExtra: p5YExtra, yMinor: p5YMinor,
      xTicks: p5XTicks, xLabel: p5XLabel, xLabelDx: -15, timeX: 1008, labelY: 864,
      intens: { x: 828, y: 517 }, x10: { x: 824, y: 540 }, exp: exponents[4],
      fs: 16, sx: 1.03, timeSx: 1.05, numWeight: "normal", intensWeight: "normal",
    },
  ];

  const titleSpecs = [
    { x: 27, y: 440, w: 365 },
    { x: 609, y: 440, w: 146 },
    { x: 1001, y: 440, w: 295 },
    { x: 226, y: 911, w: 507 },
    { x: 840, y: 911, w: 203 },
  ];

  return (
    <div style={{ position: "absolute", left: 0, top: 0 }}>
      <svg width={1316} height={916} viewBox="0 0 1316 916" style={{ display: "block", background: "#ffffff" }}>
        <rect x={0} y={0} width={1316} height={916} fill="#ffffff" />
        {panels.map((p, i) => (
          <Panel key={i} p={p} id={`clip${i}`} />
        ))}
        {compoundNames.map((name, i) => (
          <text
            key={name}
            x={titleSpecs[i].x}
            y={titleSpecs[i].y}
            textLength={titleSpecs[i].w}
            lengthAdjust="spacingAndGlyphs"
            fontFamily="Lato, 'Open Sans', sans-serif"
            fontWeight="bold"
            fontSize={20}
            fill="#111"
          >
            {name}
          </text>
        ))}
      </svg>
    </div>
  );
}
